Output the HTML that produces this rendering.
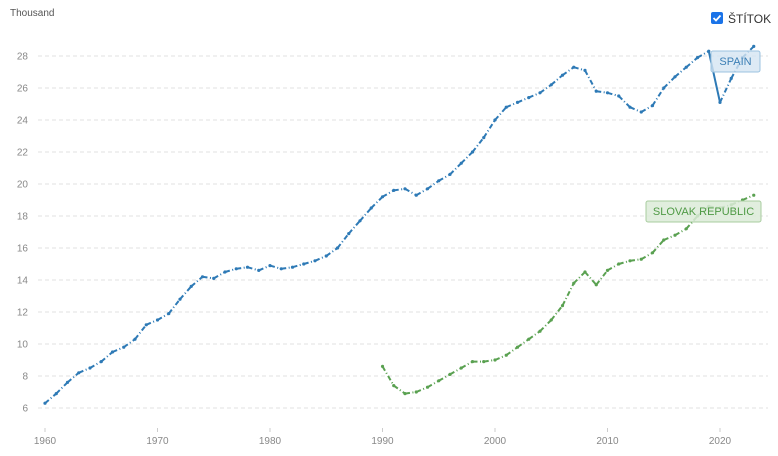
<!DOCTYPE html><html><head><meta charset="utf-8"><style>
body{margin:0;background:#fff;font-family:"Liberation Sans",sans-serif}
</style></head><body>
<svg id="s" width="778" height="451" xmlns="http://www.w3.org/2000/svg" font-family="Liberation Sans, sans-serif">
<text x="10" y="16" font-size="10" fill="#555">Thousand</text>
<rect x="711" y="12" width="12" height="12" rx="2" fill="#1a73e8"/>
<path d="M713.5 18 l2.5 2.5 l4.5 -5" stroke="#fff" stroke-width="1.8" fill="none"/>
<text x="728" y="23" font-size="12" fill="#333">ŠTÍTOK</text>
<g id="g"></g>
<rect x="711" y="51" width="49" height="21" rx="2" fill="#d4e5f2" fill-opacity="0.8" stroke="#9cc3e0"/>
<text x="735.5" y="65" font-size="11" fill="#3c7fb5" text-anchor="middle">SPAIN</text>
<rect x="646" y="201" width="115" height="21" rx="2" fill="#dcebd8" fill-opacity="0.85" stroke="#a8cc9f"/>
<text x="703.5" y="215" font-size="11" fill="#4f9a45" text-anchor="middle">SLOVAK REPUBLIC</text>
</svg>
<script>
var g=document.getElementById('g'),h='';
function X(y){return 45+(y-1960)*11.25}function Y(v){return 408-(v-6)*16}
for(var v=6;v<=28;v+=2){h+='<line x1="38" x2="768" y1="'+Y(v)+'" y2="'+Y(v)+'" stroke="#e0e0e0" stroke-dasharray="4 3"/><text x="28" y="'+(Y(v)+3.5)+'" font-size="10" fill="#888" text-anchor="end">'+v+'</text>';}
for(var y=1960;y<=2020;y+=10){h+='<line x1="'+X(y)+'" x2="'+X(y)+'" y1="428" y2="432" stroke="#ccc"/><text x="'+X(y)+'" y="444" font-size="10" fill="#888" text-anchor="middle">'+y+'</text>';}
var es=[6.3,6.9,7.6,8.2,8.5,8.9,9.5,9.8,10.3,11.2,11.5,11.9,12.8,13.6,14.2,14.1,14.5,14.7,14.8,14.6,14.9,14.7,14.8,15.0,15.2,15.5,16.0,16.9,17.7,18.5,19.2,19.6,19.7,19.3,19.7,20.2,20.6,21.3,22.0,22.9,24.0,24.8,25.1,25.4,25.7,26.2,26.8,27.3,27.1,25.8,25.7,25.5,24.8,24.5,24.9,26.0,26.7,27.3,27.9,28.3,25.1,26.6,27.9,28.6];
var sk=[8.6,7.4,6.9,7.0,7.3,7.7,8.1,8.5,8.9,8.9,9.0,9.3,9.8,10.3,10.8,11.5,12.4,13.8,14.5,13.7,14.6,15.0,15.2,15.3,15.7,16.5,16.8,17.2,18.0,18.6,18.5,18.7,19.0,19.3];
function line(d,s,c){for(var i=0;i<d.length-1;i++){var a=s+i,sol=(c=='#2e7ab6'&&a==2019);
h+='<line x1="'+X(a)+'" y1="'+Y(d[i])+'" x2="'+X(a+1)+'" y2="'+Y(d[i+1])+'" stroke="'+c+'" stroke-width="2" '+(sol?'':'stroke-dasharray="5 2.5 1 2.5"')+'/>';}
for(var i=0;i<d.length;i++)h+='<circle cx="'+X(s+i)+'" cy="'+Y(d[i])+'" r="1.6" fill="'+c+'"/>';}
line(es,1960,'#2e7ab6');line(sk,1990,'#5aa151');
g.innerHTML=h;
</script>
</body></html>
